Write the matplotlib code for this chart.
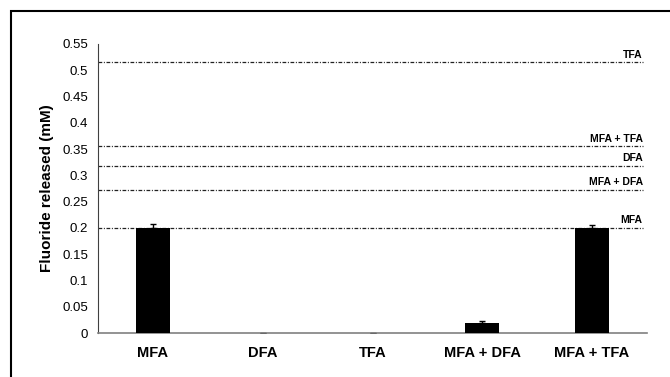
import matplotlib
matplotlib.use("Agg")
import matplotlib.pyplot as plt
import matplotlib.patches as mpatches

plt.rcParams['font.family'] = ['Liberation Sans', 'DejaVu Sans']

# ==========================================
# DATI
# ==========================================

categorie = ['MFA', 'DFA', 'TFA', 'MFA + DFA', 'MFA + TFA']
fluoruro  = [0.200, 0.0, 0.0, 0.019, 0.200]
errori    = [0.008, 0.0, 0.0, 0.003, 0.005]

# linee di riferimento (fluoruro teorico)
rif_nomi   = ['TFA', 'MFA + TFA', 'DFA', 'MFA + DFA', 'MFA']
rif_valori = [0.515, 0.355, 0.318, 0.272, 0.200]

y_ticks = [0, 0.05, 0.1, 0.15, 0.2, 0.25, 0.3, 0.35, 0.4, 0.45, 0.5, 0.55]

# ==========================================
# GRAFICO
# ==========================================

fig = plt.figure(figsize=(6.7, 3.77), dpi=100)
ax = fig.add_axes([0.1463, 0.1167, 0.8194, 0.7666])

x = range(len(categorie))
ax.bar(x, fluoruro, width=0.31, color='black', zorder=3)
ax.errorbar(x, fluoruro, yerr=[[0] * len(errori), errori], fmt='none',
            ecolor='black', elinewidth=1, capsize=2.5, capthick=1, zorder=2)

for nome, val in zip(rif_nomi, rif_valori):
    ax.plot([-0.5, 4.46], [val, val], color='#222222', lw=0.9,
            linestyle=(0, (3, 1.3, 0.8, 1.3)), zorder=1)
    ax.annotate(nome, xy=(4.46, val), xytext=(0, 2), textcoords='offset points',
                ha='right', va='bottom', fontsize=7.5, fontweight='bold')

ax.set_xlim(-0.5, 4.5)
ax.set_ylim(0, 0.55)
ax.set_yticks(y_ticks)
ax.set_yticklabels([f'{t:g}' for t in y_ticks], fontsize=9.5)
ax.set_xticks(list(x))
ax.set_xticklabels(categorie, fontsize=10.5, fontweight='bold')
ax.tick_params(length=0, pad=7)
ax.tick_params(axis='x', pad=9)
ax.set_ylabel('Fluoride released (mM)', fontsize=11, fontweight='bold', labelpad=6)

ax.spines['top'].set_visible(False)
ax.spines['right'].set_visible(False)
ax.spines['left'].set_color('#404040')
ax.spines['bottom'].set_color('#808080')
ax.spines['bottom'].set_linewidth(1.2)

# cornice esterna (solo sinistra e sopra visibili)
fig.patches.append(mpatches.Rectangle((11 / 670, -0.1), 1.2, 1.1 - 11 / 377,
                                      transform=fig.transFigure, fill=False,
                                      edgecolor='black', linewidth=1.5))

fig.savefig('out.png', dpi=100)
